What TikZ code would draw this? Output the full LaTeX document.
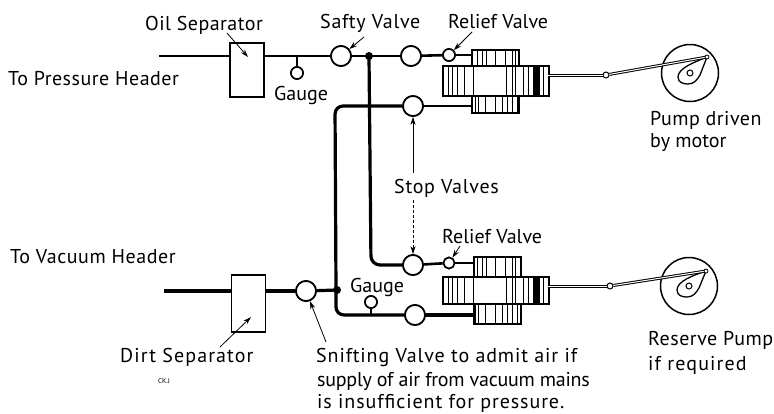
\documentclass[tikz,border=0pt]{standalone}
\usepackage{fontspec}
\setmainfont{PT Sans}
\usetikzlibrary{arrows.meta,calc}
\newcommand{\ls}[1]{\addfontfeature{LetterSpace=#1}}
\tikzset{
  pipe/.style={line width=2.6pt},
  thick pipe/.style={line width=3.2pt},
  valve/.style={circle,draw,fill=white,line width=1.7pt,inner sep=0pt,minimum size=20pt},
  small valve/.style={circle,draw,fill=white,line width=1.6pt,inner sep=0pt,minimum size=11pt},
  sep box/.style={rectangle,draw,fill=white,line width=1.9pt,inner sep=0pt,minimum width=34pt},
  lbl/.style={anchor=base west,font=\fontsize{20}{22}\selectfont,inner sep=0pt},
  lead/.style={line width=.8pt,-{Stealth[length=8pt,width=5pt]}},
  block/.style={rectangle,draw,line width=1.6pt,inner sep=0pt,anchor=north west},
  hatch/.style={line width=.9pt},
  junction/.style={circle,fill=black,inner sep=0pt,minimum size=8pt},
  rod/.style={line width=1pt,double=white,double distance=1pt},
}
\newcommand{\pumpunit}[6]{% name, y1,y2,y3,y4, x of top left
  \node[block,minimum width=47pt,minimum height=#3pt-#2pt] (#1top) at (#6,#2) {};
  \node[block,minimum width=47pt,minimum height=#5pt-#4pt] (#1bot) at (#6,#4) {};
  \node[block,fill=white,minimum width=106pt,minimum height=#4pt-#3pt] (#1mid) at (442,#3) {};
  \foreach \xx in {477,482,486,495,505,512,515}
    \draw[hatch] (\xx,#2) -- (\xx,#3);
  \foreach \xx in {475,478,485,495,502,507,512,517}
    \draw[hatch] (\xx,#4) -- (\xx,#5);
  \foreach \xx in {448,452,457,464,473,506,512,515,523,528,543}
    \draw[hatch] (\xx,#3) -- (\xx,#4);
  \fill (533,#3) rectangle (540,#4);
}
\newcommand{\drive}[8]{% name, cx, cy, tipx rel, tipy rel, pivot x, pivot y, rod start y
  \node[circle,draw,line width=1.5pt,inner sep=0pt,minimum size=57pt] (#1disk) at (#2,#3) {};
  \begin{scope}[shift={(#2,#3)}]
    \draw[line width=1.3pt,fill=white] (#4,#5) .. controls (5,-11) and (-12,-5) .. (-12,4)
      .. controls (-12,10) and (-6,11) .. (-2,11) .. controls (4,11) and (7,7) .. (10,2) -- cycle;
    \node[circle,draw,line width=1pt,inner sep=0pt,minimum size=6pt] (#1shaft) at (0,0) {};
    \coordinate (#1tip) at (#4,#5);
  \end{scope}
  \node[circle,draw,fill=white,line width=1pt,inner sep=0pt,minimum size=6pt] (#1pivot) at (#6,#7) {};
  \draw[rod] (#1pivot) -- (#1tip);
  \node[circle,draw,fill=white,line width=.8pt,inner sep=0pt,minimum size=4pt] at (#1tip) {};
  \coordinate (#1start) at (548,#8);
  \draw[rod] (#1start) -- (#1pivot);
}
\begin{document}
\begin{tikzpicture}[x=1pt,y=-1pt]
\useasboundingbox (0,0) rectangle (774,413);
\fill[white] (0,0) rectangle (774,413);
% free ends
\coordinate (pin) at (159,56);
\coordinate (vin) at (164,291);
\coordinate (pJ) at (369,56);
\coordinate (vJ) at (337,290);

% ---- pipes
\node[sep box,minimum height=54pt] (oil) at (247,70) {};
\node[sep box,minimum height=57pt] (dirt) at (248.5,303.5) {};
\node[valve] (safety) at (341,56) {};
\node[valve] (v1) at (411,56) {};
\node[small valve,minimum size=12pt] (r1) at (449,55) {};
\node[valve] (v2) at (413,106) {};
\node[valve] (v3) at (413,265) {};
\node[small valve] (r2) at (449,263) {};
\node[valve] (v4) at (415,315) {};
\node[valve] (snift) at (306,291) {};
\node[small valve,minimum size=12pt] (g1) at (297,73) {};
\node[small valve,minimum size=12pt] (g2) at (371,302) {};

\pumpunit{pa}{49}{65}{95}{112}{471}
\pumpunit{pb}{256}{276}{303}{323}{473}

\coordinate (oilL) at (oil.west |- pin);
\coordinate (oilR) at (oil.east |- pin);
\coordinate (dirtL) at (dirt.west |- vin);
\coordinate (dirtR) at (dirt.east |- vin);
\draw[pipe] (pin) -- (oilL);
\draw[pipe] (oilR) -- (safety);
\draw[pipe] (safety) -- (pJ) -- (v1);
\draw[pipe] (v1) -- (r1);
\draw[pipe] (r1) -- (r1 -| patop.west);
\draw[pipe] (v2) -- (v2 -| patop.west);
\draw[thick pipe,rounded corners=8pt] (v2) -- (335,106) -- (336,290) |- (v4);
\draw[thick pipe] (v4) -- (v4 -| pbtop.west);
\draw[thick pipe,rounded corners=9pt] (pJ) -- (371,265) -- (v3);
\draw[pipe] (v3) -- (r2);
\draw[pipe] (r2) -- (r2 -| pbtop.west);
\draw[thick pipe] (vin) -- (dirtL);
\draw[thick pipe] (dirtR) -- (snift);
\draw[thick pipe] (snift) -- (vJ);
\draw[pipe] (g1) -- (g1 |- pJ);
\draw[pipe] (g2) -- (g2 |- v4);
\node[junction] at (pJ) {};
\node[junction] at (vJ) {};
% redraw valves above the pipes
\foreach \n/\s in {safety/valve,v1/valve,v2/valve,v3/valve,v4/valve,snift/valve}
  \node[\s] at (\n) {};
\node[small valve,minimum size=12pt] at (r1) {};
\node[small valve] at (r2) {};
\node[small valve,minimum size=12pt] at (g1) {};
\node[small valve,minimum size=12pt] at (g2) {};
\node[sep box,minimum height=54pt] at (oil) {};
\node[sep box,minimum height=57pt] at (dirt) {};

% ---- drives
\drive{da}{690}{73}{17}{-16}{606}{75}{75}
\drive{db}{689}{286}{17}{-15}{610}{286}{286}

% ---- leader arrows
\coordinate (aOil) at (227,33);   \coordinate (aOilT) at (248,57);
\coordinate (aSaf) at (364,37);   \coordinate (aRel) at (472,32);
\coordinate (aRel2) at (460,246); \coordinate (aDirt) at (220,347);
\coordinate (aDirtT) at (251,317);\coordinate (aSn) at (326,342);
\coordinate (aStopA) at (413,173);\coordinate (aStopB) at (413,200);
\draw[lead] (aOil) -- (aOilT);
\draw[lead] (aSaf) -- (safety);
\draw[lead] (aRel) -- (r1);
\draw[lead] (aRel2) -- (r2);
\draw[lead] (aDirt) -- (aDirtT);
\draw[lead] (aSn) -- (snift);
\draw[lead] (aStopA) -- (v2);
\draw[lead,densely dashed] (aStopB) -- (v3);

% ---- labels
\node[lbl] (t1) at (145,30) {\ls{2.3}Oil Separator};
\node[lbl] (t2) at (320,28) {\ls{3.6}Safty Valve};
\node[lbl] (t3) at (448,28) {Relief Valve};
\node[lbl] (t4) at (8,85) {\ls{2.5}To Pressure Header};
\node[lbl] (t5) at (274,100) {Gauge};
\node[lbl] (t6) at (650,125) {\ls{2.3}Pump driven};
\node[lbl] (t7) at (650,147) {by motor};
\node[lbl] (t8) at (394,193) {\ls{3.6}Stop Valves};
\node[lbl] (t9) at (442,243) {Relief Valve};
\node[lbl] (t10) at (10,263) {\ls{2.8}To Vacuum Header};
\node[lbl] (t11) at (350,292) {Gauge};
\node[lbl] (t12) at (648,345) {\ls{2.6}Reserve Pump};
\node[lbl] (t13) at (648,370) {\ls{5.5}if required};
\node[lbl] (t14) at (120,362) {\ls{5.4}Dirt Separator};
\node[lbl] (t15) at (316,362) {\ls{4.5}Snifting Valve to admit air if};
\node[lbl] (t16) at (317,386) {\ls{-1.3}supply of air from vacuum mains};
\node[lbl] (t17) at (317,408) {\ls{4.6}is insufficient for pressure.};
\node[anchor=base west,inner sep=0pt,font=\fontsize{7}{8}\selectfont] (t18) at (158,383) {CK.J};
\end{tikzpicture}
\end{document}
